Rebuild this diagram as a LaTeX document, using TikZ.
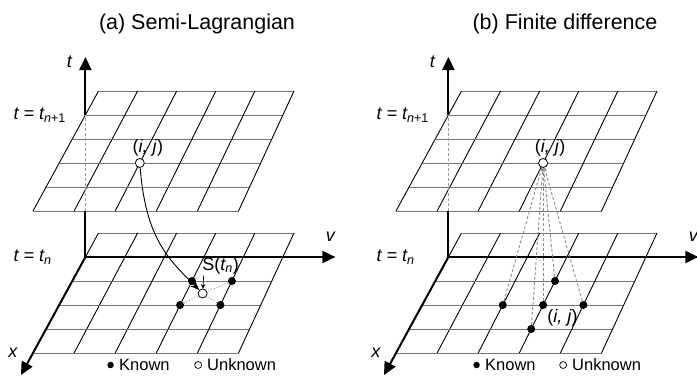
\documentclass[tikz,border=0pt]{standalone}
\usepackage{fontspec}
\setmainfont{Liberation Sans}
\usetikzlibrary{arrows.meta,positioning,calc}
\tikzset{rowline/.style={draw=black!55,line width=0.9pt},
  colline/.style={draw=black,line width=0.9pt},
  axis/.style={line width=2pt,line join=round},
  axisarrow/.style={axis,-{Triangle[length=13pt,width=12pt]}},
  hidden/.style={draw=black!40,line width=1pt,dash pattern=on 3pt off 2pt},
  known/.style={circle,fill=black,inner sep=0pt,minimum size=8pt},
  unknown/.style={circle,draw=black,fill=white,line width=0.8pt,inner sep=0pt,minimum size=9pt},
  legknown/.style={circle,fill=black,inner sep=0pt,minimum size=6.5pt},
  legunknown/.style={circle,draw=black,line width=0.7pt,inner sep=0pt,minimum size=7pt},
  lbl/.style={font=\fontsize{18}{20}\selectfont\itshape,inner sep=1pt},
  ttl/.style={font=\fontsize{21.5}{24}\selectfont},
  legend/.style={font=\fontsize{16.5}{18}\selectfont,inner sep=1pt},
  flow/.style={-{Stealth[length=9pt,width=7pt]},line width=0.9pt},
  pointer/.style={-{Stealth[length=4.5pt,width=4.5pt]},line width=0.7pt},
  dotline/.style={draw=black!45,line width=0.9pt,dotted},
  stencil/.style={draw=black!45,line width=0.9pt,dash pattern=on 3pt off 2pt,
    -{Stealth[length=3.5pt,width=3.5pt]}}}
% one time plane: corners #1-nw, #1-ne, #1-sw, #1-se
\newcommand{\planegrid}[3]{%
  \coordinate (#1-nw) at (#2,#3);
  \coordinate (#1-ne) at ({#2+195.5},#3);
  \coordinate (#1-sw) at ({#2-65.5},{#3+120});
  \coordinate (#1-se) at ({#2+140},{#3+120});
  \foreach \k in {0,...,5}{
    \draw[rowline] ($(#1-nw)!\k/5!(#1-sw)$) -- ($(#1-ne)!\k/5!(#1-se)$);
    \draw[colline] ($(#1-nw)!\k/5!(#1-ne)$) -- ($(#1-sw)!\k/5!(#1-se)$);
  }}
% grid point: plane, row, column, name
\newcommand{\gridpt}[4]{%
  \coordinate (#4-l) at ($(#1-nw)!#2/5!(#1-sw)$);
  \coordinate (#4-r) at ($(#1-ne)!#2/5!(#1-se)$);
  \coordinate (#4) at ($(#4-l)!#3/5!(#4-r)$);}

\begin{document}
\begin{tikzpicture}[x=1pt,y=-1pt]
\useasboundingbox (0,0) rectangle (697,378);

% (a) Semi-Lagrangian
\node[ttl] (a-title) at (197,24) {(a) Semi-Lagrangian};
\planegrid{au}{98.5}{91}
\planegrid{al}{98.5}{233}
\gridpt{au}{1}{0}{a-uo}
\gridpt{al}{1}{0}{a-lo}
\coordinate (a-hid) at (a-lo |- au-sw);
\coordinate (a-ttip) at ($(a-uo)+(0,-58)$);
\coordinate (a-vtip) at ($(a-lo)+(250,0)$);
\coordinate (a-xtip) at ($(a-lo)!1.23!(al-sw)$);
\draw[axis] (a-lo) -- (a-hid);
\draw[hidden] (a-hid) -- (a-uo);
\draw[axisarrow] (a-uo) -- (a-ttip);
\draw[axisarrow] (a-lo) -- (a-vtip);
\draw[axisarrow] (a-lo) -- (a-xtip);
\node[lbl] (a-t) at ($(a-ttip)+(-16,5)$) {t};
\node[lbl] (a-v) at ($(a-vtip)+(-5,-20)$) {v};
\node[lbl] (a-x) at ($(a-xtip)+(-8,-22)$) {x};
\node[lbl,anchor=west] (a-tn1) at ($(a-uo)+(-73,0)$) {t = t\textsubscript{n\textup{+1}}};
\node[lbl,anchor=west] (a-tn) at ($(a-lo)+(-73,0)$) {t = t\textsubscript{n}};

\gridpt{au}{3}{2}{a-pij}
\gridpt{al}{2}{3}{a-p1}
\gridpt{al}{2}{4}{a-p2}
\gridpt{al}{3}{3}{a-p3}
\gridpt{al}{3}{4}{a-p4}
\gridpt{al}{2.52}{3.42}{a-ps}
\node[known] (a-k1) at (a-p1) {};
\node[known] (a-k2) at (a-p2) {};
\node[known] (a-k3) at (a-p3) {};
\node[known] (a-k4) at (a-p4) {};
\node[unknown] (a-s) at (a-ps) {};
\node[unknown] (a-ij) at (a-pij) {};
\node[lbl,above=1pt of a-ij,xshift=8pt] (a-ijl) {\textup{(}i, j\textup{)}};
\draw[dotline] (a-k1) -- (a-s);
\draw[dotline] (a-k2) -- (a-s);
\draw[dotline] (a-k3) -- (a-s);
\draw[dotline] (a-k4) -- (a-s);
\draw[flow] (a-ij) .. controls +(6,75) and +(-35,-35) .. (a-s);
\node[lbl] (a-sl) at ($(a-s)+(18,-28)$) {\textup{S(}t\textsubscript{n}\textup{)}};
\coordinate (a-sarr) at ($(a-s)+(1,-18)$);
\draw[pointer] (a-sarr) -- (a-s);

\node[legend,anchor=west] (a-kt) at (118,365) {Known};
\node[legknown,left=4pt of a-kt] (a-kd) {};
\node[legend,anchor=west] (a-ut) at (206,365) {Unknown};
\node[legunknown,left=4pt of a-ut] (a-ud) {};

% (b) Finite difference
\node[ttl] (b-title) at (565,24) {(b) Finite difference};
\planegrid{bu}{461.5}{91}
\planegrid{bl}{461.5}{233}
\gridpt{bu}{1}{0}{b-uo}
\gridpt{bl}{1}{0}{b-lo}
\coordinate (b-hid) at (b-lo |- bu-sw);
\coordinate (b-ttip) at ($(b-uo)+(0,-58)$);
\coordinate (b-vtip) at ($(b-lo)+(250,0)$);
\coordinate (b-xtip) at ($(b-lo)!1.23!(bl-sw)$);
\draw[axis] (b-lo) -- (b-hid);
\draw[hidden] (b-hid) -- (b-uo);
\draw[axisarrow] (b-uo) -- (b-ttip);
\draw[axisarrow] (b-lo) -- (b-vtip);
\draw[axisarrow] (b-lo) -- (b-xtip);
\node[lbl] (b-t) at ($(b-ttip)+(-16,5)$) {t};
\node[lbl] (b-v) at ($(b-vtip)+(-5,-20)$) {v};
\node[lbl] (b-x) at ($(b-xtip)+(-8,-22)$) {x};
\node[lbl,anchor=west] (b-tn1) at ($(b-uo)+(-73,0)$) {t = t\textsubscript{n\textup{+1}}};
\node[lbl,anchor=west] (b-tn) at ($(b-lo)+(-73,0)$) {t = t\textsubscript{n}};

\gridpt{bu}{3}{3}{b-pij}
\gridpt{bl}{2}{3}{b-p1}
\gridpt{bl}{3}{2}{b-p2}
\gridpt{bl}{3}{3}{b-p3}
\gridpt{bl}{3}{4}{b-p4}
\gridpt{bl}{4}{3}{b-p5}
\node[known] (b-k1) at (b-p1) {};
\node[known] (b-k2) at (b-p2) {};
\node[known] (b-k3) at (b-p3) {};
\node[known] (b-k4) at (b-p4) {};
\node[known] (b-k5) at (b-p5) {};
\node[unknown] (b-ij) at (b-pij) {};
\node[lbl,above=1pt of b-ij,xshift=7pt] (b-ijl) {\textup{(}i, j\textup{)}};
\node[lbl,below right=0pt and 0pt of b-k3] (b-kl) {\textup{(}i, j\textup{)}};
\foreach \k in {1,...,5}
  \draw[stencil] (b-k\k) -- (b-ij);

\node[legend,anchor=west] (b-kt) at (484,365) {Known};
\node[legknown,left=4pt of b-kt] (b-kd) {};
\node[legend,anchor=west] (b-ut) at (571,365) {Unknown};
\node[legunknown,left=4pt of b-ut] (b-ud) {};
\end{tikzpicture}
\end{document}
